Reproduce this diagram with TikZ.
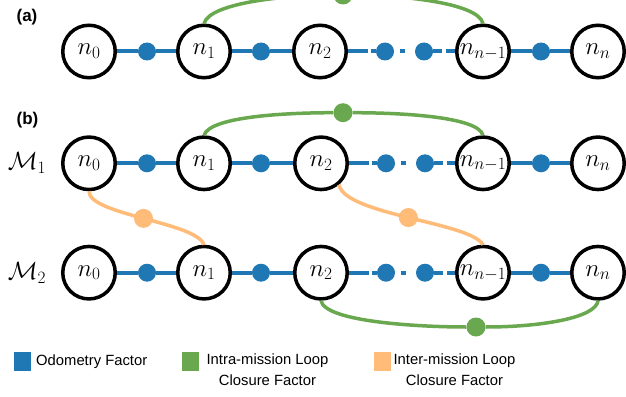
\documentclass[tikz,border=0pt]{standalone}
\usepackage{fontspec}
\setsansfont{Liberation Sans}
\definecolor{odo}{RGB}{31,119,180}
\definecolor{intra}{RGB}{106,168,79}
\definecolor{inter}{RGB}{255,187,120}
\begin{document}
\begin{tikzpicture}[x=1pt,y=-1pt,
 state/.style={circle,draw=black,line width=3.5pt,fill=white,minimum size=52.5pt,inner sep=0pt,font=\fontsize{23}{27}\selectfont},
 odot/.style={circle,fill=odo,minimum size=18pt,inner sep=0pt},
 gdot/.style={circle,fill=intra,minimum size=19pt,inner sep=0pt},
 idot/.style={circle,fill=inter,minimum size=19pt,inner sep=0pt},
 odoline/.style={draw=odo,line width=4pt},
 intraline/.style={draw=intra,line width=3.5pt},
 interline/.style={draw=inter,line width=3.5pt},
 lab/.style={font=\sffamily\bfseries\fontsize{17}{20}\selectfont},
 mlab/.style={font=\fontsize{25}{30}\selectfont},
 legtext/.style={font=\sffamily\fontsize{14.8}{21}\selectfont,align=center,inner sep=0pt},
 legbox/.style={minimum width=17pt,minimum height=19pt,inner sep=0pt}]
\useasboundingbox (0,0) rectangle (626,396);

% ---------- (a)
\node[lab] (la) at (27,17.5) {(a)};
\node[state] (a0) at (89,51.5) {$n_0$};
\node[state] (a1) at (204,51.5) {$n_1$};
\node[state] (a2) at (320,51.5) {$n_2$};
\node[state] (a3) at (483,51.5) {$n_{n-1}$};
\node[state] (a4) at (598,51.5) {$n_n$};
\node[odot] (ad1) at (147,51.5) {};
\node[odot] (ad2) at (261,51.5) {};
\node[odot] (ad3) at (385,51.5) {};
\node[odot] (ad4) at (424,51.5) {};
\node[odot] (ad5) at (541,51.5) {};
\draw[odoline] (a0) -- (ad1) -- (a1) -- (ad2) -- (a2);
\draw[odoline,dash pattern=on 20pt off 3pt on 20pt] (a2) -- (ad3);
\draw[odoline,dash pattern=on 0pt off 6pt on 5pt off 30pt] (ad3) -- (ad4);
\draw[odoline,dash pattern=on 9pt off 4pt on 30pt] (ad4) -- (a3);
\draw[odoline] (a3) -- (ad5) -- (a4);
\node[gdot] (ag) at (343,-5) {};
\draw[intraline] (a1.north) .. controls (210,2) and (290,-5) .. (ag);
\draw[intraline] (ag) .. controls (396,-5) and (478,2) .. (a3.north);

% ---------- (b)
\node[lab] (lb) at (27.5,120) {(b)};
\node[mlab] (m1) at (27,163.3) {$\mathcal{M}_1$};
\node[mlab] (m2) at (27,272.7) {$\mathcal{M}_2$};

\node[state] (b0) at (89,163.3) {$n_0$};
\node[state] (b1) at (204,163.3) {$n_1$};
\node[state] (b2) at (321,163.3) {$n_2$};
\node[state] (b3) at (483,163.3) {$n_{n-1}$};
\node[state] (b4) at (598,163.3) {$n_n$};
\node[odot] (bd1) at (147,163.3) {};
\node[odot] (bd2) at (261,163.3) {};
\node[odot] (bd3) at (386,163.3) {};
\node[odot] (bd4) at (425,163.3) {};
\node[odot] (bd5) at (541,163.3) {};
\draw[odoline] (b0) -- (bd1) -- (b1) -- (bd2) -- (b2);
\draw[odoline,dash pattern=on 20pt off 3pt on 20pt] (b2) -- (bd3);
\draw[odoline,dash pattern=on 0pt off 6pt on 5pt off 30pt] (bd3) -- (bd4);
\draw[odoline,dash pattern=on 9pt off 4pt on 30pt] (bd4) -- (b3);
\draw[odoline] (b3) -- (bd5) -- (b4);

\node[state] (c0) at (89,272.7) {$n_0$};
\node[state] (c1) at (204,272.7) {$n_1$};
\node[state] (c2) at (321,272.7) {$n_2$};
\node[state] (c3) at (483,272.7) {$n_{n-1}$};
\node[state] (c4) at (598,272.7) {$n_n$};
\node[odot] (cd1) at (147,272.7) {};
\node[odot] (cd2) at (261,272.7) {};
\node[odot] (cd3) at (386,272.7) {};
\node[odot] (cd4) at (425,272.7) {};
\node[odot] (cd5) at (541,272.7) {};
\draw[odoline] (c0) -- (cd1) -- (c1) -- (cd2) -- (c2);
\draw[odoline,dash pattern=on 20pt off 3pt on 20pt] (c2) -- (cd3);
\draw[odoline,dash pattern=on 0pt off 6pt on 5pt off 30pt] (cd3) -- (cd4);
\draw[odoline,dash pattern=on 9pt off 4pt on 30pt] (cd4) -- (c3);
\draw[odoline] (c3) -- (cd5) -- (c4);

% intra-mission loop closures
\node[gdot] (bg) at (343,112.7) {};
\draw[intraline] (b1.north) .. controls (210,116) and (290,112.7) .. (bg);
\draw[intraline] (bg) .. controls (396,112.7) and (478,116) .. (b3.north);
\node[gdot] (cg) at (476,327) {};
\draw[intraline] (c2.south) .. controls (325,322) and (420,327) .. (cg);
\draw[intraline] (cg) .. controls (540,327) and (596,318) .. (c4.south);

% inter-mission loop closures
\draw[interline] (b0.south) .. controls (89,215) and (196,222) .. (c1.north)
  node[idot,pos=0.5] (o1) {};
\draw[interline] (b2.-50) .. controls (345,215) and (470,222) .. (c3.north)
  node[idot,pos=0.5] (o2) {};

% ---------- legend
\node[legbox,fill=odo] (k1) at (22.5,361) {};
\node[legtext,anchor=base west] (t1) at (36,365) {Odometry Factor};
\node[legbox,fill=intra] (k2) at (190,361) {};
\node[legtext,anchor=north] (t2) at (267.5,354) {Intra-mission Loop\\Closure Factor};
\node[legbox,fill=inter] (k3) at (382.5,361) {};
\node[legtext,anchor=north] (t3) at (454.5,354) {Inter-mission Loop\\Closure Factor};
\end{tikzpicture}
\end{document}
